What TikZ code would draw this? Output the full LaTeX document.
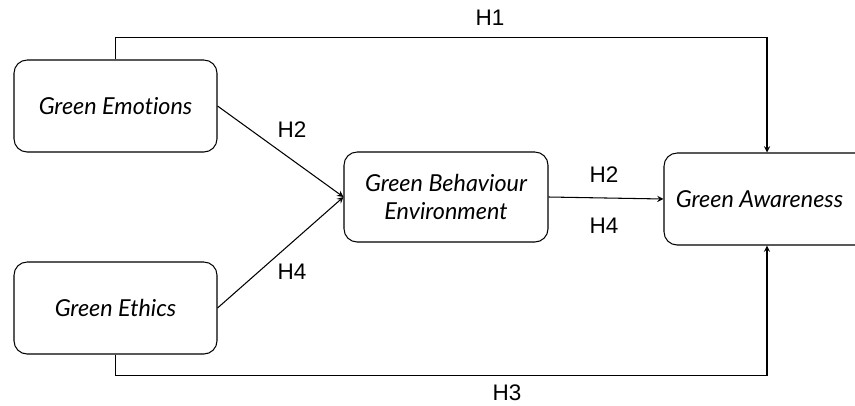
\documentclass[tikz,border=0pt]{standalone}
\usepackage{fontspec}
\setmainfont{Liberation Sans}
\newfontfamily\boxfont[Ligatures=NoCommon]{Lato}
\usetikzlibrary{positioning, arrows}

\begin{document}
\begin{tikzpicture}[
        var/.style={draw, line width=0.6pt, rounded corners=7.5pt, minimum width=4.06cm, minimum height=1.84cm, align=center, font=\boxfont\itshape\fontsize{13.3}{16}\selectfont},
        hyp/.style={font=\fontsize{12.8}{15}\selectfont},
        link/.style={line width=0.6pt, -stealth}
    ]
        \clip (0, 0) rectangle (17.1, 8.1);
        \useasboundingbox (0, 0) rectangle (17.1, 8.1);

        \node[var] (emo) at (2.31, 5.98) {Green Emotions};
        \node[var] (eth) at (2.31, 1.94) {Green Ethics};
        \node[var, minimum width=4.08cm, minimum height=1.8cm] (beh) at (8.92, 4.16) {Green Behaviour\\Environment};
        \node[var, minimum width=4.12cm] (awa) at (15.34, 4.12) {\hspace*{-0.1cm}Green Awareness\hspace*{0.2cm}};

        \draw[link] (emo.east) -- (beh.west);
        \draw[link] (eth.east) -- (beh.west);
        \draw[link] (beh.east) -- (awa.west);
        \draw[link] (emo.north) -- ++(0, 0.44) -| (awa.north);
        \draw[link] (eth.south) -- ++(0, -0.42) -| (awa.south);

        \node[hyp] (h1) at (9.8, 7.74) {H1};
        \node[hyp] (h2a) at (5.84, 5.5) {H2};
        \node[hyp] (h4a) at (5.84, 2.66) {H4};
        \node[hyp] (h2b) at (12.08, 4.6) {H2};
        \node[hyp] (h4b) at (12.08, 3.58) {H4};
        \node[hyp] (h3) at (10.14, 0.24) {H3};
    \end{tikzpicture}
\end{document}
